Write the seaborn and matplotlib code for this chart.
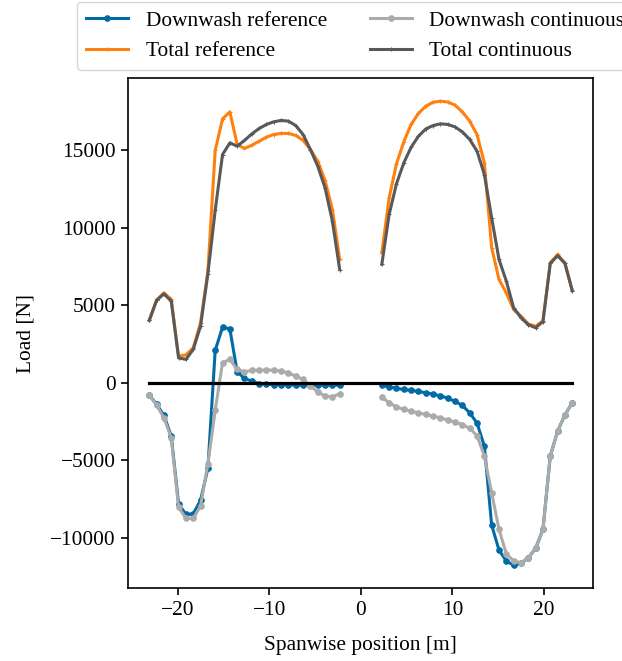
import matplotlib
matplotlib.use("Agg")
import matplotlib.pyplot as plt
import numpy as np
import pandas as pd
import seaborn as sns

# spanwise stations (m), left and right wing
x_left = [-23.1, -22.3, -21.5, -20.7, -19.9, -19.1, -18.3, -17.5, -16.7, -15.9, -15.1, -14.3, -13.5,
          -12.7, -11.9, -11.1, -10.3, -9.5, -8.7, -7.9, -7.1, -6.3, -5.5, -4.7, -3.9, -3.1, -2.3]
x_right = [2.3, 3.1, 3.9, 4.7, 5.5, 6.3, 7.1, 7.9, 8.7, 9.5, 10.3, 11.1, 11.9, 12.7,
           13.5, 14.3, 15.1, 15.9, 16.7, 17.5, 18.3, 19.1, 19.9, 20.7, 21.5, 22.3, 23.1]

# downwash reference
dw_ref_l = [-790, -1390, -2100, -3440, -7800, -8490, -8450, -7580, -5520, 2090, 3590, 3480, 710,
            280, 110, -60, -100, -120, -130, -140, -140, -140, -150, -150, -150, -150, -150]
dw_ref_r = [-170, -260, -360, -430, -490, -555, -645, -730, -840, -990, -1200, -1460, -1940, -2600,
            -4080, -9180, -10790, -11500, -11760, -11650, -11290, -10680, -9460, -4730, -3120, -2080, -1290]

# total reference
tot_ref_l = [4030, 5350, 5800, 5380, 1720, 1800, 2260, 3870, 7200, 14990, 17030, 17480, 15380,
             15120, 15330, 15590, 15850, 16020, 16090, 16090, 15960, 15640, 15050, 14300, 13060, 11180, 7960]
tot_ref_r = [8390, 11930, 14130, 15550, 16670, 17380, 17850, 18100, 18170, 18120, 17910, 17480, 16880, 16020,
             14190, 8710, 6670, 5800, 4730, 4300, 3800, 3650, 4000, 7750, 8280, 7740, 5960]

# downwash continuous
dw_con_l = [-790, -1440, -2260, -3550, -8020, -8750, -8750, -7950, -5220, -1780, 1290, 1510, 860,
            710, 800, 820, 820, 820, 755, 645, 430, 220, -210, -580, -860, -900, -710]
dw_con_r = [-920, -1290, -1550, -1720, -1830, -1935, -2040, -2150, -2260, -2400, -2530, -2690, -2940, -3400,
            -4730, -7100, -9460, -11030, -11500, -11610, -11290, -10640, -9460, -4730, -3120, -2080, -1290]

# total continuous
tot_con_l = [4030, 5320, 5740, 5270, 1610, 1510, 2150, 3660, 7030, 11120, 14730, 15480, 15270,
             15640, 16060, 16410, 16670, 16840, 16930, 16880, 16600, 16020, 15050, 13980, 12580, 10430, 7310]
tot_con_r = [7640, 10860, 12840, 14190, 15200, 15910, 16380, 16600, 16710, 16670, 16510, 16190, 15700, 14950,
             13440, 10640, 7960, 6560, 4840, 4200, 3750, 3550, 3950, 7700, 8200, 7700, 5950]

plt.rcParams['font.family'] = ['Liberation Serif', 'DejaVu Serif']
plt.rcParams['mathtext.fontset'] = 'stix'
plt.rcParams['font.size'] = 15.4

colors = ['#006BA4', '#FF800E', '#ABABAB', '#595959']

fig = plt.figure(figsize=(6.22, 6.61), dpi=100)
ax = fig.add_axes([0.206, 0.110, 0.748, 0.772])

series = [
    ("Downwash reference", dw_ref_l, dw_ref_r, 'o', 4),
    ("Total reference", tot_ref_l, tot_ref_r, '+', 3),
    ("Downwash continuous", dw_con_l, dw_con_r, 'o', 4),
    ("Total continuous", tot_con_l, tot_con_r, '+', 3),
]
for (name, yl, yr, mk, ms), c in zip(series, colors):
    df_l = pd.DataFrame({"x": x_left, "y": yl})
    df_r = pd.DataFrame({"x": x_right, "y": yr})
    sns.lineplot(data=df_l, x="x", y="y", ax=ax, color=c, marker=mk, markersize=ms,
                 markeredgecolor=c, lw=2.2, sort=False, label=name)
    sns.lineplot(data=df_r, x="x", y="y", ax=ax, color=c, marker=mk, markersize=ms,
                 markeredgecolor=c, lw=2.2, sort=False)

ax.plot([x_left[0], x_right[-1]], [0, 0], color='k', lw=2.3)

ax.set_xlabel("Spanwise position [m]", labelpad=12)
ax.set_ylabel("Load [N]", labelpad=11)
ax.set_xticks([-20, -10, 0, 10, 20])
ax.set_yticks([-10000, -5000, 0, 5000, 10000, 15000])
ax.tick_params(length=5.3, width=1.2)
for s in ax.spines.values():
    s.set_linewidth(1.2)

ax.legend(loc='upper left', bbox_to_anchor=(0.124, 0.997), bbox_transform=fig.transFigure,
          borderaxespad=0, ncol=2, frameon=True, handlelength=2.0, columnspacing=2.0)

fig.savefig("out.png", dpi=100)
